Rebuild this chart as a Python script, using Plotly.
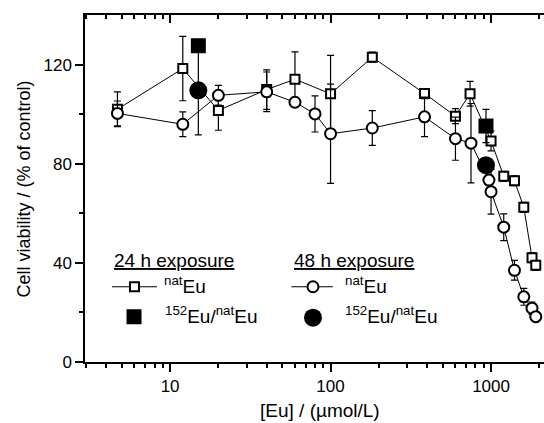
import plotly.graph_objects as go
import math

# 24 h exposure, natEu (open squares)
sq_x = [4.7, 12, 20, 40, 60, 100, 182, 385, 600, 740, 1000, 1200, 1400, 1600, 1800, 1900]
sq_y = [102, 118.4, 101.5, 109.9, 114.1, 108.2, 123.0, 108.3, 99.2, 108.2, 89.2, 74.9, 73.1, 62.4, 42.1, 39.0]
sq_e = [7, 13, 8, 8, 11, 15.5, 2, 2, 3, 5, 4, 2, 2, 2, 2, 2]

# 48 h exposure, natEu (open circles)
ci_x = [4.7, 12, 20, 40, 60, 80, 100, 182, 385, 600, 750, 970, 1000, 1200, 1400, 1600, 1800, 1900]
ci_y = [100.3, 95.9, 107.6, 109.0, 104.8, 100.1, 92.1, 94.4, 98.9, 90.1, 88.3, 73.4, 68.7, 54.4, 37.0, 26.3, 21.7, 18.3]
ci_e = [5, 5, 4, 8, 2, 7.3, 20, 7, 8, 8.7, 16, 2, 9, 5.4, 4, 3.4, 2.5, 2]

# 152Eu/natEu
fsq_x = [15, 930]
fsq_y = [127.6, 95.2]
fsq_e = [0, 6.7]
fci_x = [15, 930]
fci_y = [109.6, 79.4]
fci_e = [18, 3]

x_ticks = [10, 100, 1000]
x_ticktext = ["10", "100", "1000"]
x_minor = [3, 4, 5, 6, 7, 8, 9, 20, 30, 40, 50, 60, 70, 80, 90,
           200, 300, 400, 500, 600, 700, 800, 900, 2000]
y_ticks = [0, 40, 80, 120]
y_minor = [20, 60, 100]

FONT = "Arial, Liberation Sans, sans-serif"
xr = [math.log10(2.95), 3.330]

fig = go.Figure()

def err(e):
    return dict(type="data", array=e, visible=True, color="black", thickness=1.2, width=3.5)

fig.add_trace(go.Scatter(x=sq_x, y=sq_y, error_y=err(sq_e), mode="lines+markers",
                         line=dict(color="black", width=1),
                         marker=dict(symbol="square", size=9, color="white",
                                     line=dict(color="black", width=2)), showlegend=False))
fig.add_trace(go.Scatter(x=ci_x, y=ci_y, error_y=err(ci_e), mode="lines+markers",
                         line=dict(color="black", width=1),
                         marker=dict(symbol="circle", size=11, color="white",
                                     line=dict(color="black", width=2)), showlegend=False))
fig.add_trace(go.Scatter(x=fsq_x, y=fsq_y, error_y=err(fsq_e), mode="markers",
                         marker=dict(symbol="square", size=15, color="black"), showlegend=False))
fig.add_trace(go.Scatter(x=fci_x, y=fci_y, error_y=err(fci_e), mode="markers",
                         marker=dict(symbol="circle", size=18, color="black"), showlegend=False))

# invisible trace for top axis
fig.add_trace(go.Scatter(x=[10], y=[0], xaxis="x2", mode="markers",
                         marker=dict(opacity=0), showlegend=False, hoverinfo="skip"))

# legend samples on overlay axes (0..1 of plot area)
lg_sq_line_x = [0.0588, 0.157]
lg_y1 = [0.2168, 0.2168]
lg_ci_line_x = [0.4495, 0.540]
fig.add_trace(go.Scatter(x=lg_sq_line_x, y=lg_y1, xaxis="x3", yaxis="y3", mode="lines",
                         line=dict(color="black", width=1), showlegend=False, hoverinfo="skip"))
fig.add_trace(go.Scatter(x=[0.1078], y=[0.2168], xaxis="x3", yaxis="y3", mode="markers",
                         marker=dict(symbol="square", size=9, color="white",
                                     line=dict(color="black", width=2)), showlegend=False))
fig.add_trace(go.Scatter(x=lg_ci_line_x, y=lg_y1, xaxis="x3", yaxis="y3", mode="lines",
                         line=dict(color="black", width=1), showlegend=False, hoverinfo="skip"))
fig.add_trace(go.Scatter(x=[0.4967], y=[0.2168], xaxis="x3", yaxis="y3", mode="markers",
                         marker=dict(symbol="circle", size=11, color="white",
                                     line=dict(color="black", width=2)), showlegend=False))
fig.add_trace(go.Scatter(x=[0.1068], y=[0.1304], xaxis="x3", yaxis="y3", mode="markers",
                         marker=dict(symbol="square", size=15, color="black"), showlegend=False))
fig.add_trace(go.Scatter(x=[0.4967], y=[0.1278], xaxis="x3", yaxis="y3", mode="markers",
                         marker=dict(symbol="circle", size=18, color="black"), showlegend=False))

LF = 19
ann = [
    dict(x=0.0588, y=0.2917, text="<u>24 h exposure</u>", xanchor="left"),
    dict(x=0.451, y=0.2917, text="<u>48 h exposure</u>", xanchor="left"),
    dict(x=0.1678, y=0.2225, text="<sup>nat</sup>Eu", xanchor="left"),
    dict(x=0.562, y=0.2225, text="<sup>nat</sup>Eu", xanchor="left"),
    dict(x=0.170, y=0.136, text="<sup>152</sup>Eu/<sup>nat</sup>Eu", xanchor="left"),
    dict(x=0.562, y=0.136, text="<sup>152</sup>Eu/<sup>nat</sup>Eu", xanchor="left"),
    dict(x=0.512, y=-0.140, text="[Eu] / (µmol/L)", xanchor="center"),
]
for a in ann:
    a.update(xref="paper", yref="paper", yanchor="middle", showarrow=False,
             font=dict(family=FONT, size=LF, color="black"))
ann.append(dict(x=-0.1329, y=0.5, xref="paper", yref="paper", xanchor="center",
                yanchor="middle", showarrow=False, textangle=-90,
                text="Cell viability / (% of control)",
                font=dict(family=FONT, size=18, color="black")))

fig.update_layout(
    width=544, height=423,
    margin=dict(l=85, r=0, t=15, b=61, autoexpand=False),
    paper_bgcolor="white", plot_bgcolor="white",
    font=dict(family=FONT, size=17, color="black"),
    annotations=ann,
    xaxis=dict(type="log", range=xr, showgrid=False, zeroline=False, automargin=False,
               showline=True, linecolor="black", linewidth=1.5,
               ticks="outside", ticklen=8, tickwidth=1.5, tickcolor="black",
               tickvals=x_ticks, ticktext=x_ticktext,
               minor=dict(tickvals=x_minor, ticks="outside", ticklen=4, tickwidth=1.5,
                          tickcolor="black", showgrid=False)),
    xaxis2=dict(type="log", range=xr, overlaying="x", side="top", showgrid=False,
                zeroline=False, showline=True, linecolor="black", linewidth=1.5,
                ticks="inside", ticklen=8, tickwidth=1.5, tickcolor="black",
                tickvals=x_ticks, showticklabels=False, automargin=False,
                minor=dict(tickvals=x_minor, ticks="inside", ticklen=4, tickwidth=1.5,
                           tickcolor="black", showgrid=False)),
    yaxis=dict(range=[0, 140], showgrid=False, zeroline=False, automargin=False,
               showline=True, linecolor="black", linewidth=1.5,
               ticks="outside", ticklen=8, tickwidth=1.5, tickcolor="black",
               tickvals=y_ticks,
               minor=dict(tickvals=y_minor, ticks="outside", ticklen=4, tickwidth=1.5,
                          tickcolor="black", showgrid=False)),
    xaxis3=dict(range=[0, 1], overlaying="x", visible=False, fixedrange=True),
    yaxis3=dict(range=[0, 1], overlaying="y", visible=False, fixedrange=True),
)

fig.write_html("out.html")
